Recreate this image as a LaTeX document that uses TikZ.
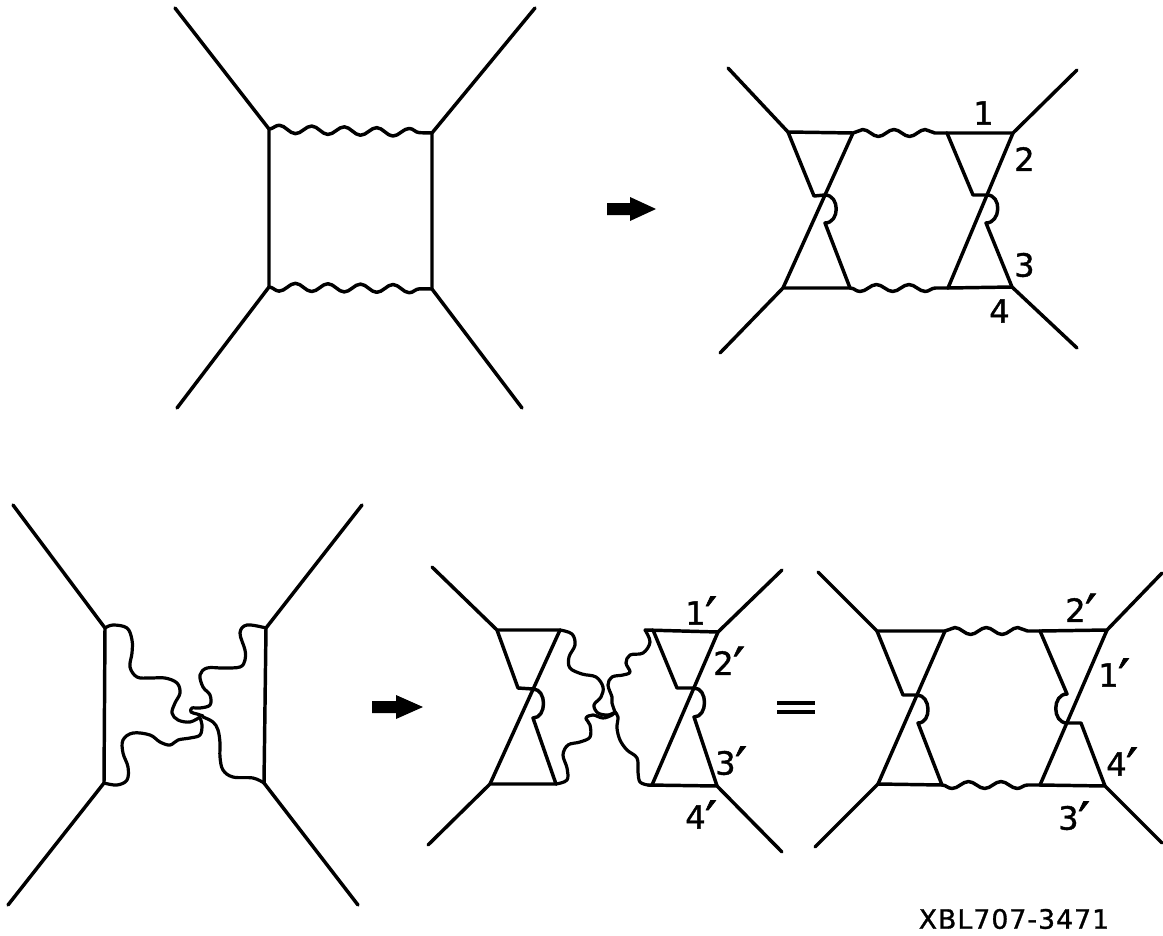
\documentclass[tikz,border=0pt]{standalone}
\usepackage{fontspec}
\newfontfamily\labfont{DejaVu Sans}[FakeBold=1.2]
\newfontfamily\serfont{DejaVu Sans}[LetterSpace=4,FakeBold=1.2]
\usetikzlibrary{decorations.pathmorphing}
\newcommand\pr{\kern-0.5pt\smash{\raisebox{-8pt}{\fontsize{40}{40}\selectfont ′}}}
\begin{document}
\begin{tikzpicture}[x=0.75pt,y=-0.75pt,
  fl/.style={line width=2.6pt, line cap=round, line join=round},
  wave/.style={fl, decorate, decoration={snake, amplitude=2.6pt, segment length=#1}},
  wavem/.style={fl, decorate, decoration={snake, mirror, amplitude=2.6pt, segment length=#1}},
  wavebig/.style={fl, decorate, decoration={snake, amplitude=3pt, segment length=#1}},
  wavebigm/.style={fl, decorate, decoration={snake, mirror, amplitude=3pt, segment length=#1}},
  lab/.style={font=\labfont\fontsize{24}{28}\selectfont, inner sep=0pt, anchor=west},
  arrowfill/.style={fill=black},
  curly/.style={fl, line width=2.4pt},
]
\useasboundingbox (0,0) rectangle (1163,935);

% ---------------- top-left: box diagram ----------------
\coordinate (a1) at (269,129); \coordinate (a2) at (432,133);
\coordinate (a3) at (269,287); \coordinate (a4) at (432,289);
\coordinate (a1o) at (175,8);  \coordinate (a2o) at (535,8);
\coordinate (a3o) at (177,408); \coordinate (a4o) at (522,408);
\draw[fl] (a1o) -- (a1) -- (a3) -- (a3o);
\draw[fl] (a2o) -- (a2) -- (a4) -- (a4o);
\draw[wavebig=24.4pt] (a1) -- (a2);
\draw[wavebigm=24.4pt] (a3) -- (a4);

% top arrow
\fill[arrowfill] (607,203) -- (630,203) -- (630,197) -- (656,209) -- (630,221) -- (630,215) -- (607,215) -- cycle;

% ---------------- top-right ----------------
\coordinate (b1) at (788,132); \coordinate (b2) at (1013,133);
\coordinate (b3) at (783,288); \coordinate (b4) at (1012,287);
\coordinate (b1o) at (728,68); \coordinate (b2o) at (1077,70);
\coordinate (b3o) at (720,353); \coordinate (b4o) at (1077,348);
\coordinate (bw1) at (853,133); \coordinate (bw2) at (947,133);
\coordinate (bw3) at (850,288); \coordinate (bw4) at (948,288);
\coordinate (bp1) at (814,196); \coordinate (bx1) at (825,195); \coordinate (bq1) at (825,223);
\coordinate (bp2) at (973,195); \coordinate (bx2) at (987,195); \coordinate (bq2) at (986,223);
\draw[fl] (b1o) -- (b1) -- (bw1);
\draw[wave=23.4pt] (bw1) -- (bw2);
\draw[fl] (bw2) -- (b2) -- (b2o);
\draw[fl] (b3o) -- (b3) -- (bw3);
\draw[wavem=24.4pt] (bw3) -- (bw4);
\draw[fl] (bw4) -- (b4) -- (b4o);
\draw[fl] (bw1) -- (b3);
\draw[fl] (b1) -- (bp1) -- (bx1) .. controls +(15,0) and +(15,0) .. (bq1) -- (bw3);
\draw[fl] (b2) -- (bw4);
\draw[fl] (bw2) -- (bp2) -- (bx2) .. controls +(15,0) and +(15,0) .. (bq2) -- (b4);
\node[lab] (n1) at (973,113) {1};
\node[lab] (n2) at (1014,159) {2};
\node[lab] (n3) at (1014,265) {3};
\node[lab] (n4) at (989,311) {4};

% ---------------- bottom-left: crossed box ----------------
\coordinate (c1) at (105,628); \coordinate (c2) at (266,628);
\coordinate (c3) at (104,783); \coordinate (c4) at (264,783);
\coordinate (c1o) at (13,505); \coordinate (c2o) at (362,505);
\coordinate (c3o) at (8,905); \coordinate (c4o) at (358,905);
\draw[fl] (c1o) -- (c1) -- (c3) -- (c3o);
\draw[fl] (c2o) -- (c2) -- (c4) -- (c4o);
\draw[curly] plot[smooth, tension=0.6] coordinates {(c1) (113,625) (127,628) (132,640) (132,653) (130,667) (137,677) (150,678) (165,678) (177,683) (180,693) (175,703) (172,713) (178,720) (190,722) (200,717)};
\draw[curly] plot[smooth, tension=0.6] coordinates {(c2) (247,625) (240,633) (245,650) (245,660) (240,667) (223,668) (207,668) (200,675) (203,687) (210,695) (210,705) (200,708) (192,708) (191,712) (197,714) (203,716)};
\draw[curly] plot[smooth, tension=0.6] coordinates {(c3) (117,785) (127,780) (128,767) (123,753) (123,740) (133,733) (150,735) (160,742) (170,745) (178,740) (190,738) (200,735) (202,725) (200,718)};
\draw[curly] plot[smooth, tension=0.6] coordinates {(c4) (253,778) (233,777) (223,770) (220,757) (220,743) (218,730) (213,722) (203,717)};

% bottom arrow
\fill[arrowfill] (372,701) -- (396,701) -- (396,695) -- (423,707) -- (396,719) -- (396,713) -- (372,713) -- cycle;

% ---------------- bottom-middle ----------------
\coordinate (d1) at (497,630); \coordinate (dA) at (560,630);
\coordinate (d3) at (490,784); \coordinate (dB) at (556,784);
\coordinate (d1o) at (432,567); \coordinate (d3o) at (428,845);
\coordinate (dp1) at (518,688); \coordinate (dx1) at (533,689); \coordinate (dq1) at (533,718);
\draw[fl] (d1o) -- (d1) -- (dA);
\draw[fl] (d3o) -- (d3) -- (dB);
\draw[fl] (dA) -- (d3);
\draw[fl] (d1) -- (dp1) -- (dx1) .. controls +(14,0) and +(14,0) .. (dq1) -- (dB);
\coordinate (dC) at (645,630); \coordinate (dF) at (653,630); \coordinate (d2) at (718,632);
\coordinate (dD) at (648,785); \coordinate (dE) at (652,785); \coordinate (d4) at (717,786);
\coordinate (d2o) at (782,570); \coordinate (d4o) at (782,852);
\coordinate (dp2) at (677,688); \coordinate (dx2) at (694,688); \coordinate (dq2) at (694,717);
\draw[fl] (dC) -- (d2) -- (d2o);
\draw[fl] (dD) -- (d4) -- (d4o);
\draw[fl] (d2) -- (dE);
\draw[fl] (dF) -- (dp2) -- (dx2) .. controls +(14,0) and +(14,0) .. (dq2) -- (d4);
\draw[curly] plot[smooth, tension=0.6] coordinates {(dA) (572,634) (575,645) (569,657) (570,668) (582,674) (596,677) (603,687) (601,697) (594,705) (598,713) (608,715) (615,712)};
\draw[curly] plot[smooth, tension=0.6] coordinates {(dB) (567,780) (567,768) (563,755) (568,745) (580,742) (590,737) (590,725) (586,718) (593,715) (603,718) (612,715) (615,712)};
\draw[curly] plot[smooth, tension=0.6] coordinates {(dC) (650,642) (643,653) (630,655) (626,663) (630,672) (623,675) (612,677) (608,685) (612,697) (612,703) (615,712)};
\draw[curly] plot[smooth, tension=0.6] coordinates {(dD) (640,782) (638,772) (637,758) (627,750) (620,740) (617,728) (618,717) (615,712)};
\node[lab] (m1) at (685,613) {1\pr};
\node[lab] (m2) at (713,663) {2\pr};
\node[lab] (m3) at (715,763) {3\pr};
\node[lab] (m4) at (685,817) {4\pr};

% equals sign
\draw[line width=3pt] (777,703) -- (815,703);
\draw[line width=3pt] (777,712) -- (815,712);

% ---------------- bottom-right ----------------
\coordinate (e1) at (877,631); \coordinate (e2) at (1107,630);
\coordinate (e3) at (878,784); \coordinate (e4) at (1105,786);
\coordinate (e1o) at (818,572); \coordinate (e2o) at (1162,573);
\coordinate (e3o) at (815,847); \coordinate (e4o) at (1162,843);
\coordinate (ew1) at (945,631); \coordinate (ew2) at (1040,631);
\coordinate (ew3) at (942,785); \coordinate (ew4) at (1040,785);
\coordinate (ep1) at (903,695); \coordinate (ex1) at (917,695); \coordinate (eq1) at (918,723);
\coordinate (ep2) at (1067,694); \coordinate (ex2) at (1067,723); \coordinate (eq2) at (1081,723);
\draw[fl] (e1o) -- (e1) -- (ew1);
\draw[wave=23.6pt] (ew1) -- (ew2);
\draw[fl] (ew2) -- (e2) -- (e2o);
\draw[fl] (e3o) -- (e3) -- (ew3);
\draw[wavem=24.4pt] (ew3) -- (ew4);
\draw[fl] (ew4) -- (e4) -- (e4o);
\draw[fl] (ew1) -- (e3);
\draw[fl] (e1) -- (ep1) -- (ex1) .. controls +(14,0) and +(14,0) .. (eq1) -- (ew3);
\draw[fl] (e2) -- (ew4);
\draw[fl] (ew2) -- (ep2) .. controls +(-15,0) and +(-15,0) .. (ex2) -- (eq2) -- (e4);
\node[lab] (k2) at (1065,610) {2\pr};
\node[lab] (k1) at (1098,675) {1\pr};
\node[lab] (k4) at (1106,764) {4\pr};
\node[lab] (k3) at (1058,818) {3\pr};

% serial number
\node[font=\serfont\fontsize{20}{24}\selectfont, inner sep=0pt] (ser) at (1014,919) {XBL707-3471};
\end{tikzpicture}
\end{document}
